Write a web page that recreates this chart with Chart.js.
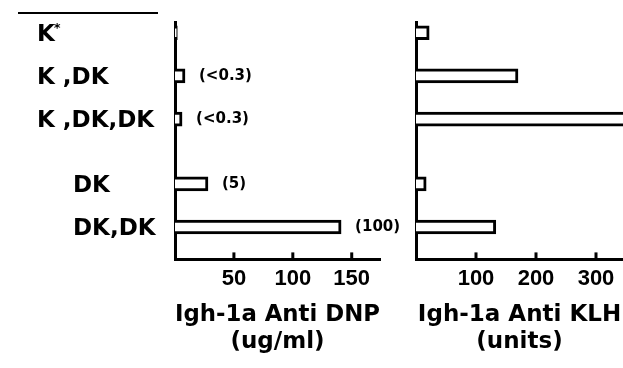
<!DOCTYPE html>
<html>
<head>
<meta charset="utf-8">
<script src="https://cdn.jsdelivr.net/npm/chart.js@4/dist/chart.umd.min.js"></script>
<style>
    body { margin: 0; background: #fff; }
    #wrap { position: relative; width: 623px; height: 368px; overflow: hidden; }
    #dnpChart { position: absolute; left: 0; top: 0; }
    #klhChart { position: absolute; left: 395px; top: 0; }
</style>
</head>
<body>
<div id="wrap">
    <canvas id="dnpChart" width="410" height="368"></canvas>
    <canvas id="klhChart" width="228" height="368"></canvas>
</div>
<script>
// rows of the figure, blanks keep the gaps between groups
const categories = ['K*', '', 'K ,DK', '', 'K ,DK,DK', '', '', 'DK', '', 'DK,DK', ''];
const antiDnp = [2, null, 8.5, null, 6, null, null, 28, null, 141, null];
const antiKlh = [22, null, 170, null, 420, null, null, 17, null, 133, null];
const dnpNotes = ['', '', '(<0.3)', '', '(<0.3)', '', '', '(5)', '', '(100)', ''];

const dnpTicks = [50, 100, 150];
const klhTicks = [100, 200, 300];

const labelFont = 'bold 23px "DejaVu Sans"';
const noteFont = 'bold 15px "DejaVu Sans"';

// draws the bits chart.js does not: row labels, notes, inward ticks, top rule
const figureDecor = {
    id: 'figureDecor',
    afterDraw(chart, args, opts) {
        const ctx = chart.ctx;
        const xs = chart.scales.x;
        const ys = chart.scales.y;
        ctx.save();
        ctx.fillStyle = '#000';
        ctx.strokeStyle = '#000';

        // ticks pointing up into the plot
        ctx.lineWidth = 3;
        xs.ticks.forEach(t => {
            const px = xs.getPixelForValue(t.value);
            ctx.beginPath();
            ctx.moveTo(px, chart.chartArea.bottom);
            ctx.lineTo(px, chart.chartArea.bottom - 7);
            ctx.stroke();
        });

        if (opts.rowLabels) {
            ctx.lineWidth = 2;
            ctx.beginPath();
            ctx.moveTo(18, 13);
            ctx.lineTo(158, 13);
            ctx.stroke();

            ctx.textBaseline = 'middle';
            ctx.textAlign = 'left';
            categories.forEach((lab, i) => {
                if (!lab) return;
                const y = ys.getPixelForValue(i) + 2;
                let x = lab.startsWith('K') ? 37 : 73;
                let txt = lab;
                let sup = '';
                if (lab.endsWith('*')) {
                    txt = lab.slice(0, -1);
                    sup = '*';
                }
                ctx.font = labelFont;
                ctx.fillText(txt, x, y);
                if (sup) {
                    const w = ctx.measureText(txt).width;
                    ctx.font = 'bold 13px "DejaVu Sans"';
                    ctx.fillText(sup, x + w - 1, y - 6);
                }
            });

            const meta = chart.getDatasetMeta(0);
            ctx.font = noteFont;
            dnpNotes.forEach((note, i) => {
                if (!note) return;
                const bar = meta.data[i];
                ctx.fillText(note, bar.x + 14, bar.y);
            });
        }
        ctx.restore();
    }
};

function makeChart(canvasId, values, tickVals, max, title, padLeft, padRight, withLabels) {
    return new Chart(document.getElementById(canvasId), {
        type: 'bar',
        data: {
            labels: categories,
            datasets: [{
                data: values,
                backgroundColor: '#fff',
                borderColor: '#000',
                borderWidth: 3,
                barThickness: 14,
                clip: false
            }]
        },
        options: {
            indexAxis: 'y',
            responsive: false,
            animation: false,
            layout: { padding: { left: padLeft, right: padRight, top: 22, bottom: 12 } },
            plugins: {
                legend: { display: false },
                tooltip: { enabled: false },
                figureDecor: { rowLabels: withLabels }
            },
            scales: {
                y: {
                    type: 'category',
                    grid: { display: false, drawTicks: false },
                    ticks: { display: false },
                    border: { display: true, color: '#000', width: 3 }
                },
                x: {
                    type: 'linear',
                    min: 0,
                    max: max,
                    afterBuildTicks: scale => {
                        scale.ticks = tickVals.map(v => ({ value: v }));
                    },
                    grid: { display: false, drawTicks: false },
                    border: { display: true, color: '#000', width: 3 },
                    ticks: {
                        color: '#000',
                        padding: 6,
                        maxRotation: 0,
                        font: { family: 'Liberation Sans', weight: 'bold', size: 22 }
                    },
                    title: {
                        display: true,
                        text: title,
                        color: '#000',
                        padding: { top: 3, bottom: 0 },
                        font: { family: 'DejaVu Sans', weight: 'bold', size: 23, lineHeight: 1.2 }
                    }
                }
            }
        },
        plugins: [figureDecor]
    });
}

makeChart('dnpChart', antiDnp, dnpTicks, 174, ['Igh-1a Anti DNP', '(ug/ml)'], 175, 30, true);
makeChart('klhChart', antiKlh, klhTicks, 345, ['Igh-1a Anti KLH', '(units)'], 21, 0, false);
</script>
</body>
</html>
